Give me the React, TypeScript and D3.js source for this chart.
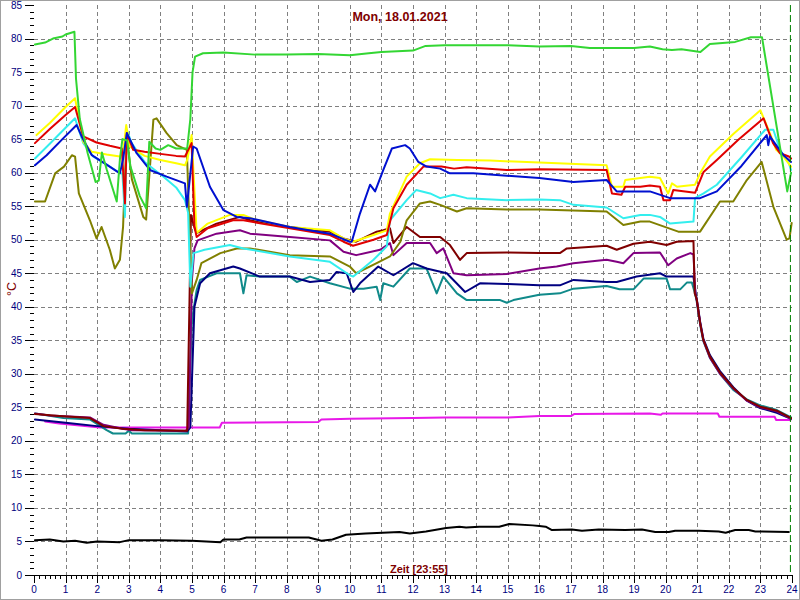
import * as d3 from 'd3';

type Pt = [number, number];

// readings: [hour, °C]
const greenSeries: Pt[] = [
  [0.03, 79.1], [0.35, 79.4], [0.6, 80.0], [0.9, 80.3], [1.0, 80.6], [1.28, 81.0], [1.33, 74], [1.45, 68],
  [1.7, 62.9], [1.95, 58.6], [2.05, 58.8], [2.15, 63.0], [2.3, 60.5], [2.62, 55.7], [2.72, 62], [2.8, 65],
  [2.95, 64.8], [3.05, 61], [3.35, 56.5], [3.55, 54.7], [3.65, 64.6], [3.85, 63.6], [4.0, 63.4], [4.25, 64.1],
  [4.5, 63.6], [4.85, 63.6], [4.95, 68], [5.02, 75], [5.1, 77.3], [5.35, 77.8], [6, 77.9], [7, 77.6], [8, 77.6],
  [9, 77.7], [10, 77.5], [10.6, 77.8], [11, 78.0], [12, 78.2], [12.4, 78.9], [13, 79.0], [15, 79.0], [16, 78.8],
  [17, 78.9], [17.6, 78.6], [18, 78.6], [19, 78.6], [19.5, 78.8], [19.9, 78.4], [20.2, 78.3], [20.5, 78.4],
  [21.1, 78.0], [21.4, 79.2], [22.2, 79.5], [22.7, 80.2], [23.05, 80.2], [23.85, 57.2], [23.97, 60.0],
];

const yellowSeries: Pt[] = [
  [0.08, 65.6], [0.5, 67.4], [1.0, 69.8], [1.3, 71.1], [1.56, 64.6], [1.83, 63.1], [2.3, 62.7], [2.72, 62.4],
  [2.82, 63], [2.92, 67.1], [3.03, 63.9], [3.5, 62.5], [4.0, 61.9], [4.5, 61.4], [4.78, 61.1], [4.86, 62],
  [4.99, 65.6], [5.15, 51.0], [5.5, 52.4], [6.2, 53.7], [6.63, 53.7], [7.0, 53.0], [8.1, 51.9], [9.37, 51.4],
  [9.8, 50.2], [10.1, 49.7], [10.75, 50.7], [11.17, 51.4], [11.27, 53.9], [11.8, 59.4], [12.22, 61.4],
  [12.54, 62.0], [13.4, 61.9], [14.44, 61.8], [16.0, 61.5], [18.13, 61.1], [18.3, 57.9], [18.66, 57.9],
  [18.72, 58.9], [19.2, 59.2], [19.5, 59.4], [19.82, 59.2], [20.08, 56.9], [20.2, 58.4], [20.36, 57.9],
  [20.93, 58.2], [21.09, 59.9], [21.4, 62.4], [22.15, 65.8], [23.0, 69.3], [23.3, 65.9], [23.5, 63.4],
  [23.73, 62.4], [23.97, 60.9],
];

const redSeries: Pt[] = [
  [0.03, 64.4], [0.5, 66.5], [1.0, 68.6], [1.3, 69.8], [1.56, 65.4], [1.98, 64.5], [2.4, 64.0], [2.78, 63.6],
  [2.88, 55.4], [2.94, 65.9], [3.14, 63.4], [3.5, 63.1], [4.0, 62.8], [4.5, 62.5], [4.78, 62.4], [4.99, 64.4],
  [5.08, 52], [5.15, 50.4], [5.5, 51.7], [6.3, 52.9], [6.63, 52.9], [7.2, 52.4], [8.1, 51.7], [9.37, 50.7],
  [9.8, 49.7], [10.1, 49.1], [10.75, 50.0], [11.17, 50.7], [11.38, 54.7], [11.8, 58.2], [12.33, 60.9],
  [12.9, 60.9], [13.3, 60.6], [13.7, 60.8], [14.97, 60.4], [16.0, 60.5], [18.13, 60.4], [18.3, 56.9],
  [18.6, 56.7], [18.72, 57.9], [19.2, 57.9], [19.5, 58.1], [19.82, 57.9], [19.93, 55.9], [20.14, 55.9],
  [20.24, 57.4], [20.93, 57.0], [21.2, 60.1], [21.62, 61.9], [22.3, 64.9], [23.1, 68.1], [23.4, 64.4],
  [23.62, 62.9], [23.9, 62.4], [23.97, 62.1],
];

const cyanSeries: Pt[] = [
  [0.03, 62.1], [0.5, 64.3], [1.0, 66.7], [1.3, 68.1], [1.56, 64.4], [1.88, 62.4], [2.3, 61.2], [2.67, 60.1],
  [2.8, 59.8], [2.88, 53.4], [2.94, 66.4], [3.09, 64.4], [3.5, 61.6], [4.1, 59.4], [4.5, 57.8], [4.78, 55.9],
  [4.88, 54], [4.95, 43], [5.05, 48.0], [5.4, 48.5], [6.2, 49.2], [6.63, 48.7], [8.1, 47.5], [9.37, 46.7],
  [10.0, 44.7], [10.11, 44.5], [10.75, 47.0], [11.17, 49.0], [11.27, 52.9], [11.8, 55.9], [12.1, 57.4],
  [12.54, 56.9], [12.86, 56.2], [13.28, 56.7], [13.7, 56.2], [14.97, 55.9], [16.0, 56.0], [16.65, 55.9],
  [17.08, 55.2], [18.13, 54.8], [18.66, 53.2], [19.2, 53.7], [19.5, 53.7], [19.82, 53.4], [20.14, 52.4],
  [20.88, 52.7], [20.93, 56.2], [21.2, 56.9], [21.62, 58.2], [22.4, 62.3], [23.15, 66.4], [23.41, 66.4],
  [23.62, 63.4], [23.9, 61.4], [23.97, 60.4],
];

const blueSeries: Pt[] = [
  [0.03, 61.1], [0.4, 62.6], [0.9, 65.0], [1.35, 67.1], [1.51, 65.4], [1.83, 62.6], [2.3, 61.2], [2.72, 59.9],
  [2.82, 62], [2.94, 65.9], [3.25, 62.9], [3.67, 60.4], [4.2, 59.4], [4.78, 58.4], [4.84, 54.9], [5.04, 63.9],
  [5.15, 63.6], [5.57, 57.9], [6.0, 54.4], [6.42, 53.4], [6.84, 53.2], [8.1, 51.9], [9.37, 50.9], [10.0, 49.7],
  [10.06, 49.7], [10.32, 53.9], [10.64, 58.2], [10.8, 57.2], [11.06, 60.4], [11.33, 63.6], [11.75, 64.1],
  [11.9, 63.6], [12.17, 61.6], [12.43, 60.9], [12.86, 60.6], [13.17, 59.9], [13.91, 59.9], [16.0, 59.2],
  [17.08, 58.6], [18.13, 58.9], [18.45, 57.2], [19.2, 57.2], [19.5, 57.2], [20.14, 56.2], [21.09, 56.2],
  [21.62, 57.2], [22.4, 61.0], [23.2, 65.6], [23.25, 64.1], [23.3, 65.4], [23.73, 62.6], [23.97, 61.6],
];

const oliveSeries: Pt[] = [
  [0.03, 55.7], [0.35, 55.7], [0.67, 59.9], [0.95, 60.9], [1.2, 62.6], [1.3, 62.4], [1.42, 56.9], [1.77, 52.9],
  [1.98, 50.2], [2.14, 51.9], [2.4, 48.5], [2.56, 45.7], [2.72, 47.0], [2.82, 51.9], [2.93, 65.5], [3.1, 59],
  [3.46, 53.4], [3.55, 53.0], [3.78, 67.9], [3.88, 68.1], [4.2, 65.9], [4.52, 64.1], [4.84, 63.4], [4.92, 52],
  [5.0, 42], [5.15, 44.0], [5.3, 46.5], [5.9, 48.0], [6.42, 48.7], [6.84, 48.7], [8.1, 47.7], [9.37, 47.5],
  [10.0, 46.0], [10.2, 45.0], [10.85, 46.5], [11.27, 47.5], [11.6, 49.7], [11.8, 52.9], [12.22, 55.4],
  [12.54, 55.7], [12.86, 55.2], [13.39, 54.2], [13.7, 54.7], [14.97, 54.5], [16.0, 54.5], [18.13, 54.2],
  [18.66, 52.2], [19.2, 52.7], [19.5, 52.7], [20.4, 51.2], [21.09, 51.2], [21.72, 55.7], [22.14, 55.7],
  [22.57, 58.9], [23.04, 61.6], [23.41, 54.9], [23.83, 50.0], [23.92, 50.2], [23.99, 52.5],
];

const maroonSeries: Pt[] = [
  [0.03, 24.0], [0.8, 23.7], [1.77, 23.4], [2.2, 22.2], [2.8, 21.8], [3.5, 21.6], [4.85, 21.5], [4.92, 40],
  [4.97, 53.7], [5.1, 51.5], [5.15, 51.0], [5.78, 52.4], [6.52, 53.4], [6.84, 52.9], [8.1, 51.9], [9.37, 51.2],
  [9.8, 50.2], [10.2, 49.7], [10.85, 51.2], [11.06, 51.4], [11.27, 51.7], [11.38, 49.5], [11.8, 51.9],
  [12.22, 50.4], [12.86, 50.4], [13.17, 49.2], [13.49, 47.0], [13.7, 48.0], [14.97, 48.1], [16.0, 48.0],
  [16.65, 48.0], [16.87, 48.7], [18.13, 49.1], [18.45, 48.5], [18.98, 49.4], [19.5, 49.7], [20.03, 49.2],
  [20.35, 49.7], [20.88, 49.8], [20.92, 42], [20.98, 41.2], [21.09, 37.6], [21.19, 35.1], [21.4, 32.6],
  [21.72, 30.2], [22.14, 27.9], [22.57, 26.1], [22.99, 25.1], [23.52, 24.5], [23.97, 23.4],
];

const purpleSeries: Pt[] = [
  [0.03, 24.1], [0.5, 23.8], [1.77, 23.5], [2.2, 22.4], [2.8, 21.8], [3.1, 21.6], [4.8, 21.5], [4.9, 22],
  [5.0, 44], [5.08, 48.7], [5.18, 49.9], [5.78, 50.9], [6.52, 51.4], [6.84, 50.9], [8.1, 50.4], [9.37, 49.9],
  [9.8, 48.2], [10.2, 47.7], [10.96, 48.5], [11.27, 49.5], [11.38, 47.7], [11.8, 49.5], [12.54, 49.5],
  [12.75, 48.0], [12.96, 48.7], [13.28, 45.0], [13.7, 44.7], [14.97, 44.9], [16.0, 45.7], [16.55, 46.0],
  [17.08, 46.5], [18.13, 47.0], [18.45, 46.7], [18.66, 46.5], [18.98, 48.0], [19.82, 48.1], [20.08, 46.2],
  [20.35, 47.2], [20.78, 48.0], [20.88, 47.8], [20.94, 42], [20.99, 40.8], [21.1, 37.3], [21.2, 34.9],
  [21.4, 32.4], [21.72, 30.0], [22.14, 27.8], [22.57, 26.0], [22.99, 25.0], [23.52, 24.4], [23.97, 23.3],
];

const navySeries: Pt[] = [
  [0.03, 23.2], [1.0, 22.7], [2.0, 22.2], [3.0, 21.8], [4.85, 21.4], [4.95, 22], [5.08, 40], [5.26, 43.5],
  [5.57, 45.0], [6.31, 46.0], [6.52, 45.7], [7.15, 44.5], [8.1, 44.5], [8.74, 43.7], [9.37, 44.0], [9.58, 45.2],
  [9.9, 45.0], [10.11, 42.2], [10.32, 43.5], [10.9, 46.0], [11.38, 44.7], [12.0, 46.5], [12.43, 45.7],
  [13.07, 45.0], [13.65, 42.2], [14.12, 43.5], [14.97, 43.4], [16.0, 43.2], [16.65, 43.2], [17.08, 44.0],
  [18.13, 43.7], [18.45, 43.7], [19.08, 44.5], [19.82, 45.0], [20.03, 44.5], [20.88, 44.5], [20.95, 42],
  [20.99, 41.0], [21.09, 37.8], [21.19, 35.3], [21.4, 32.8], [21.72, 30.4], [22.14, 28.0], [22.57, 26.0],
  [22.99, 24.9], [23.52, 24.2], [23.97, 23.3],
];

const tealSeries: Pt[] = [
  [0.03, 24.1], [0.3, 23.9], [0.93, 23.4], [1.77, 23.2], [2.3, 21.6], [2.5, 21.1], [2.9, 21.1], [3.0, 21.5],
  [3.1, 21.1], [4.88, 21.1], [5.0, 38], [5.15, 42.5], [5.26, 44.0], [5.78, 45.0], [6.52, 45.0], [6.63, 42.0],
  [6.73, 44.7], [7.15, 44.5], [8.1, 44.5], [8.32, 43.7], [8.74, 44.5], [9.37, 43.5], [10.0, 42.7],
  [10.43, 42.7], [10.85, 43.0], [10.96, 41.0], [11.06, 43.5], [11.38, 43.0], [11.9, 45.7], [12.43, 45.7],
  [12.75, 42.0], [12.96, 44.5], [13.39, 42.0], [13.7, 41.0], [14.76, 41.0], [14.97, 40.6], [15.18, 41.0],
  [16.0, 41.8], [16.65, 42.0], [17.08, 42.7], [18.13, 43.1], [18.54, 42.6], [18.98, 42.6], [19.3, 44.2],
  [20.03, 44.2], [20.14, 42.6], [20.46, 42.6], [20.67, 43.6], [20.83, 43.6], [20.93, 42], [20.98, 40.9],
  [21.09, 37.4], [21.19, 34.9], [21.4, 32.4], [21.72, 30.0], [22.14, 27.6], [22.57, 26.2], [22.99, 25.3],
  [23.52, 24.6], [23.97, 23.5],
];

const magentaSeries: Pt[] = [
  [0.35, 22.9], [0.8, 22.6], [2.1, 22.0], [5.88, 22.0], [5.95, 22.7], [9.0, 22.8], [9.1, 23.2], [10, 23.3],
  [12, 23.4], [13, 23.5], [15, 23.5], [16, 23.7], [17, 23.7], [17.1, 24.0], [19.5, 24.1], [19.85, 23.9],
  [19.9, 24.1], [21.65, 24.1], [21.7, 23.6], [23.45, 23.6], [23.5, 23.1], [23.95, 23.1],
];

const blackSeries: Pt[] = [
  [0.03, 5.2], [0.5, 5.3], [0.93, 5.0], [1.3, 5.1], [1.67, 4.8], [2.0, 5.0], [2.72, 4.9], [3.0, 5.2],
  [4.0, 5.2], [5.0, 5.1], [5.9, 4.9], [6.0, 5.3], [6.5, 5.3], [6.73, 5.6], [8.7, 5.6], [9.1, 5.1], [9.45, 5.3],
  [9.88, 6.0], [10.5, 6.2], [11.57, 6.4], [11.9, 6.2], [12.41, 6.5], [13.05, 7.0], [13.47, 7.2], [13.68, 7.1],
  [14.1, 7.2], [14.73, 7.2], [15.05, 7.6], [15.79, 7.4], [16.0, 7.3], [16.2, 7.2], [16.4, 6.7], [17.03, 6.8],
  [17.35, 6.6], [17.88, 6.8], [18.72, 6.7], [19.25, 6.8], [19.67, 6.4], [20.1, 6.4], [20.3, 6.6], [21.05, 6.6],
  [21.68, 6.5], [21.9, 6.3], [22.2, 6.7], [22.63, 6.7], [22.84, 6.5], [23.9, 6.4],
];

const seriesList: { data: Pt[]; color: string }[] = [
  { data: blackSeries, color: '#000000' },
  { data: magentaSeries, color: '#e818e8' },
  { data: tealSeries, color: '#108a8a' },
  { data: navySeries, color: '#000080' },
  { data: purpleSeries, color: '#800080' },
  { data: maroonSeries, color: '#800000' },
  { data: oliveSeries, color: '#808000' },
  { data: cyanSeries, color: '#33eeee' },
  { data: yellowSeries, color: '#ffff00' },
  { data: redSeries, color: '#e00000' },
  { data: blueSeries, color: '#0010d0' },
  { data: greenSeries, color: '#33d633' },
];

const hourTicks = d3.range(0, 25);
const tempTicks = d3.range(0, 86, 5);
const titleText = 'Mon, 18.01.2021';
const xAxisTitle = 'Zeit [23:55]';
const yAxisTitle = '°C';
const nowHour = 23.95;

const W = 800;
const H = 600;
const font = '"Liberation Sans", Arial, sans-serif';

export default function App() {
  const x = d3.scaleLinear().domain([0, 24]).range([34, 792]);
  const y = d3.scaleLinear().domain([0, 85]).range([575, 5]);
  const line = d3
    .line<Pt>()
    .x((d) => x(d[0]))
    .y((d) => y(d[1]));

  const minorX = d3.range(0, 24 * 6 + 1).map((i) => i / 6);
  const minorY = d3.range(0, 86);

  return (
    <svg
      width={W}
      height={H}
      viewBox={`0 0 ${W} ${H}`}
      style={{ position: 'absolute', left: 0, top: 0, display: 'block', background: '#fff' }}
    >
      <rect x={0.5} y={0.5} width={W - 1} height={H - 1} fill="#fff" stroke="#a0a0a0" />

      {/* grid */}
      <g stroke="#808080" strokeWidth={1} strokeDasharray="4,3" fill="none">
        {hourTicks.slice(1, 24).map((h) => (
          <line key={`vx${h}`} x1={Math.round(x(h)) + 0.5} x2={Math.round(x(h)) + 0.5} y1={y(85)} y2={y(0)} />
        ))}
        {tempTicks.slice(1, 17).map((t) => (
          <line key={`hy${t}`} x1={x(0)} x2={x(24)} y1={Math.round(y(t)) + 0.5} y2={Math.round(y(t)) + 0.5} />
        ))}
      </g>

      {/* axes */}
      <g stroke="#000" strokeWidth={1}>
        <line x1={x(0)} x2={x(24)} y1={Math.round(y(0)) + 0.5} y2={Math.round(y(0)) + 0.5} />
        {minorY.map((t) => (
          <line
            key={`my${t}`}
            x1={t % 5 === 0 ? 25 : 30}
            x2={x(0)}
            y1={Math.round(y(t)) + 0.5}
            y2={Math.round(y(t)) + 0.5}
          />
        ))}
        {minorX.map((h, i) => (
          <line
            key={`mx${i}`}
            x1={Math.round(x(h)) + 0.5}
            x2={Math.round(x(h)) + 0.5}
            y1={y(0)}
            y2={i % 6 === 0 ? y(0) + 8 : y(0) + 4}
          />
        ))}
      </g>

      <g fill="#000080" fontFamily={font} fontSize={10}>
        {tempTicks.map((t) => (
          <text key={`ty${t}`} x={22} y={y(t)} dy="0.35em" textAnchor="end">
            {t}
          </text>
        ))}
        {hourTicks.map((h) => (
          <text key={`tx${h}`} x={x(h)} y={593} textAnchor="middle">
            {h}
          </text>
        ))}
      </g>

      {/* series */}
      <g fill="none" strokeWidth={2} strokeLinejoin="round" strokeLinecap="round">
        {seriesList.map((s, i) => (
          <path key={i} d={line(s.data) ?? ''} stroke={s.color} />
        ))}
      </g>

      <line
        x1={x(nowHour)}
        x2={x(nowHour)}
        y1={y(85)}
        y2={y(0)}
        stroke="#008000"
        strokeWidth={1}
        strokeDasharray="7,3"
      />

      <text x={400} y={21} textAnchor="middle" fill="#800000" fontFamily={font} fontWeight="bold" fontSize={12.5}>
        {titleText}
      </text>
      <text x={419} y={573} textAnchor="middle" fill="#800000" fontFamily={font} fontWeight="bold" fontSize={11}>
        {xAxisTitle}
      </text>
      <text
        transform={`translate(16, 289) rotate(-90)`}
        textAnchor="middle"
        fill="#800000"
        fontFamily={font}
        fontSize={12.5}
      >
        {yAxisTitle}
      </text>
    </svg>
  );
}
